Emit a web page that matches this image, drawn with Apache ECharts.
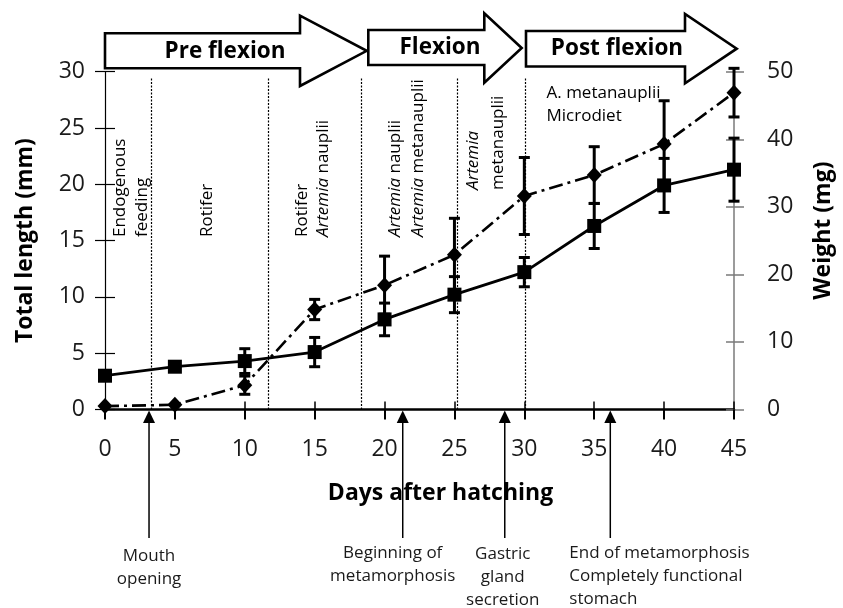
<!DOCTYPE html>
<html>
<head>
<meta charset="utf-8">
<script src="https://cdn.jsdelivr.net/npm/echarts@6/dist/echarts.min.js"></script>
<style>
  html, body { margin: 0; padding: 0; background: #fff; }
  #plot { width: 843px; height: 608px; }
</style>
</head>
<body>
<div id="plot"></div>
<script>
// data
var days = [0, 5, 10, 15, 20, 25, 30, 35, 40, 45];
var lengthMm = [3.0, 3.8, 4.3, 5.1, 8.0, 10.2, 12.2, 16.3, 19.9, 21.3];
var lengthSd = [0, 0, 1.1, 1.3, 1.45, 1.6, 1.3, 2.0, 2.4, 2.8];
var weightMg = [0.5, 0.7, 3.6, 14.8, 18.4, 22.9, 31.6, 34.7, 39.3, 46.9];
var weightSd = [0, 0, 1.35, 1.5, 4.3, 5.4, 5.7, 4.2, 6.4, 3.6];

var stageNames = ['Pre flexion', 'Flexion', 'Post flexion'];
var dividerDays = [3.3, 11.7, 18.3, 25.2, 30.1];
var eventDays = [3.15, 21.3, 28.6, 36.15];
var eventLabels = [
  'Mouth\nopening',
  'Beginning of\nmetamorphosis',
  'Gastric\ngland\nsecretion',
  'End of metamorphosis\nCompletely functional\nstomach'
];
var feedingNotes = [
  ['Endogenous', 'feeding'],
  ['Rotifer'],
  ['Rotifer', '{i|Artemia} nauplii'],
  ['{i|Artemia} nauplii', '{i|Artemia} metanauplii'],
  ['{i|Artemia}', 'metanauplii']
];
var lastNote = 'A. metanauplii\nMicrodiet';

var FONT = 'Open Sans';

function errorData(vals, sd) {
  var out = [];
  days.forEach(function (d, i) {
    if (sd[i] > 0) out.push([d, vals[i] - sd[i], vals[i] + sd[i]]);
  });
  return out;
}

function errorBar(params, api) {
  var x = api.value(0);
  var lo = api.coord([x, api.value(1)]);
  var hi = api.coord([x, api.value(2)]);
  var s = { stroke: '#000', lineWidth: 3 };
  return {
    type: 'group',
    children: [
      { type: 'line', shape: { x1: lo[0], y1: lo[1], x2: hi[0], y2: hi[1] }, style: s },
      { type: 'line', shape: { x1: lo[0] - 5.5, y1: lo[1], x2: lo[0] + 5.5, y2: lo[1] }, style: s },
      { type: 'line', shape: { x1: hi[0] - 5.5, y1: hi[1], x2: hi[0] + 5.5, y2: hi[1] }, style: s }
    ]
  };
}

var myChart = echarts.init(document.getElementById('plot'));

var labelStyle = { fontFamily: FONT, fontSize: 23, color: '#1a1a1a' };
var titleStyle = { fontFamily: FONT, fontSize: 23, fontWeight: 'bold', color: '#000' };

var option = {
  animation: false,
  grid: { left: 105, right: 104.5, top: 71.7, bottom: 198.5 },
  xAxis: [{
    type: 'value', min: 0, max: 45, interval: 5,
    name: 'Days after hatching', nameLocation: 'middle', nameGap: 72,
    nameTextStyle: Object.assign({ padding: [0, 0, 0, 42] }, titleStyle),
    axisLine: { onZero: false, lineStyle: { color: '#000', width: 2.5 } },
    axisTick: { length: 10, lineStyle: { color: '#000', width: 2 } },
    axisLabel: Object.assign({ margin: 28 }, labelStyle),
    splitLine: { show: false }
  }, {
    type: 'value', min: 0, max: 45, interval: 5, position: 'bottom',
    axisLine: { show: false, onZero: false },
    axisTick: { inside: true, length: 8, lineStyle: { color: '#000', width: 1.5 } },
    axisLabel: { show: false },
    splitLine: { show: false }
  }],
  yAxis: [{
    type: 'value', min: 0, max: 30, interval: 5, position: 'left',
    name: 'Total length (mm)', nameLocation: 'middle', nameGap: 68, nameRotate: 90,
    nameTextStyle: titleStyle,
    axisLine: { show: true, onZero: false, lineStyle: { color: '#000', width: 1.2 } },
    axisTick: { show: true, length: 10, lineStyle: { color: '#000', width: 1.2 } },
    axisLabel: Object.assign({ margin: 20 }, labelStyle),
    splitLine: { show: false }
  }, {
    type: 'value', min: 0, max: 50, interval: 10, position: 'right',
    name: 'Weight (mg)', nameLocation: 'middle', nameGap: 78, nameRotate: 90,
    nameTextStyle: Object.assign({ padding: [0, 0, 0, 20] }, titleStyle),
    axisLine: { show: true, onZero: false, lineStyle: { color: '#7a7a7a', width: 1.5 } },
    axisTick: { show: true, length: 10, lineStyle: { color: '#7a7a7a', width: 1.5 } },
    axisLabel: Object.assign({ margin: 33, align: 'left' }, labelStyle),
    splitLine: { show: false }
  }, {
    type: 'value', min: 0, max: 30, interval: 5, position: 'left',
    axisLine: { show: false, onZero: false },
    axisTick: { show: true, inside: true, length: 10, lineStyle: { color: '#000', width: 1.2 } },
    axisLabel: { show: false },
    splitLine: { show: false }
  }, {
    type: 'value', min: 0, max: 50, interval: 10, position: 'right',
    axisLine: { show: false, onZero: false },
    axisTick: { show: true, inside: true, length: 8, lineStyle: { color: '#7a7a7a', width: 1.5 } },
    axisLabel: { show: false },
    splitLine: { show: false }
  }],
  series: [{
    name: 'dividers',
    type: 'line',
    data: [],
    silent: true,
    markLine: {
      silent: true,
      symbol: 'none',
      label: { show: false },
      lineStyle: { type: [2, 1.5], color: '#000', width: 1.2 },
      data: dividerDays.map(function (d) {
        return [{ coord: [d, 0] }, { coord: [d, 29.45] }];
      })
    }
  }, {
    name: 'weight error',
    type: 'custom',
    yAxisIndex: 1,
    silent: true,
    renderItem: errorBar,
    encode: { x: 0, y: [1, 2] },
    data: errorData(weightMg, weightSd)
  }, {
    name: 'length error',
    type: 'custom',
    yAxisIndex: 0,
    silent: true,
    renderItem: errorBar,
    encode: { x: 0, y: [1, 2] },
    data: errorData(lengthMm, lengthSd)
  }, {
    name: 'Weight',
    type: 'line',
    yAxisIndex: 1,
    silent: true,
    symbol: 'diamond',
    symbolSize: [15, 16],
    itemStyle: { color: '#000' },
    lineStyle: { color: '#000', width: 2.6, type: [14, 5, 3, 5] },
    data: days.map(function (d, i) { return [d, weightMg[i]]; })
  }, {
    name: 'Total length',
    type: 'line',
    yAxisIndex: 0,
    silent: true,
    symbol: 'rect',
    symbolSize: 14,
    itemStyle: { color: '#000' },
    lineStyle: { color: '#000', width: 2.8 },
    data: days.map(function (d, i) { return [d, lengthMm[i]]; })
  }]
};

myChart.setOption(option);

// overlay: stage arrows, feeding notes, event arrows
var graphics = [];

// [bodyLeft, headStart, tip, bodyTop, bodyBottom, headTop, headBottom, textX, textY]
var arrowLayout = [
  [105, 300, 366.7, 33.3, 68.3, 15.7, 86, 225, 52],
  [368.3, 484.3, 521.7, 30, 65, 13.3, 82.7, 440, 47.5],
  [526, 685, 736.7, 31, 66.5, 14, 83.3, 617, 48.5]
];
arrowLayout.forEach(function (a, i) {
  var midY = (a[5] + a[6]) / 2;
  graphics.push({
    type: 'polygon', z: 100,
    shape: { points: [[a[0], a[3]], [a[1], a[3]], [a[1], a[5]], [a[2], midY], [a[1], a[6]], [a[1], a[4]], [a[0], a[4]]] },
    style: { fill: '#fff', stroke: '#000', lineWidth: 2.6, lineJoin: 'miter' }
  });
  graphics.push({
    type: 'text', z: 101, x: a[7], y: a[8],
    style: { text: stageNames[i], fontFamily: FONT, fontSize: 22.5, fontWeight: 'bold', fill: '#000', align: 'center', verticalAlign: 'middle' }
  });
});

// rotated feeding notes: line centres (x) and start point (y)
var noteLayout = [
  { xs: [120, 142], y: 237 },
  { xs: [206.7], y: 237 },
  { xs: [301.7, 323.3], y: 237 },
  { xs: [395, 418], y: 237 },
  { xs: [473, 498], y: 190 }
];
feedingNotes.forEach(function (lines, i) {
  lines.forEach(function (t, j) {
    graphics.push({
      type: 'text', z: 50,
      x: noteLayout[i].xs[j], y: noteLayout[i].y, rotation: Math.PI / 2,
      style: {
        text: t, fontFamily: FONT, fontSize: 17, fill: '#000',
        align: 'left', verticalAlign: 'middle',
        rich: { i: { fontFamily: FONT, fontSize: 17, fontStyle: 'italic', fill: '#000' } }
      }
    });
  });
});
graphics.push({
  type: 'text', z: 50, x: 546.5, y: 81.5,
  style: { text: lastNote, fontFamily: FONT, fontSize: 17, lineHeight: 23, fill: '#000', align: 'left', verticalAlign: 'top' }
});

// events below the axis
var eventTextLayout = [
  { dx: 0, y: 545, align: 'center' },
  { dx: -10, y: 542, align: 'center' },
  { dx: -2, y: 543, align: 'center' },
  { dx: -41, y: 542, align: 'left' }
];
eventDays.forEach(function (d, i) {
  var px = myChart.convertToPixel({ xAxisIndex: 0 }, d);
  graphics.push({
    type: 'line', z: 60,
    shape: { x1: px, y1: 420, x2: px, y2: 538 },
    style: { stroke: '#000', lineWidth: 1.5 }
  });
  graphics.push({
    type: 'polygon', z: 60,
    shape: { points: [[px, 410.5], [px - 6, 423], [px + 6, 423]] },
    style: { fill: '#000' }
  });
  var L = eventTextLayout[i];
  graphics.push({
    type: 'text', z: 60, x: px + L.dx, y: L.y,
    style: { text: eventLabels[i], fontFamily: FONT, fontSize: 17, lineHeight: 23, fill: '#1a1a1a', align: L.align, verticalAlign: 'top' }
  });
});

myChart.setOption({ graphic: graphics });
</script>
</body>
</html>
